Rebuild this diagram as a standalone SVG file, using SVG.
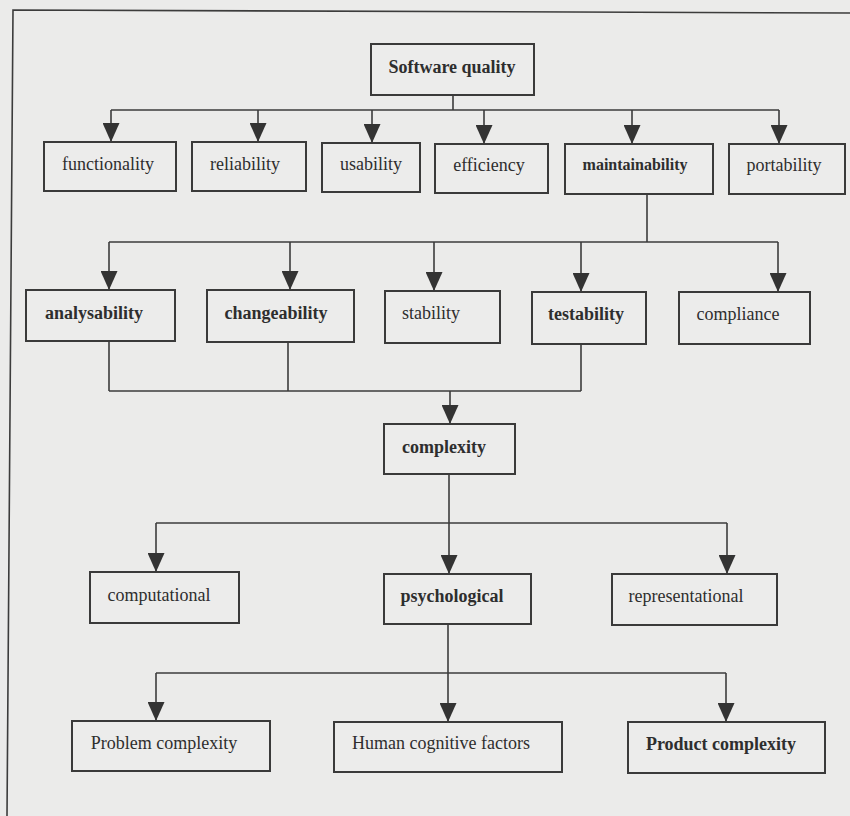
<svg xmlns="http://www.w3.org/2000/svg" width="850" height="816" viewBox="0 0 850 816">
<defs>
<style>
.bg{fill:#ebebea}
.box{fill:#ececeb;stroke:#3a3a3a;stroke-width:2}
.ln{fill:none;stroke:#3c3c3c;stroke-width:1.6}
.t{font-family:"Liberation Serif","Times New Roman",serif;font-size:18px;fill:#2e2e2e;text-anchor:middle}
.b{font-weight:bold}
</style>
<marker id="arr" markerUnits="userSpaceOnUse" markerWidth="19" markerHeight="17" viewBox="0 0 19 17" refX="19" refY="8.5" orient="auto">
<path d="M0,0 L19,8.5 L0,17 z" fill="#333"/>
</marker>
</defs>
<rect class="bg" x="0" y="0" width="850" height="816"/>
<path class="ln" d="M7,816 L13,10 L850,13" stroke-width="2"/>

<g id="connectors">
<path class="ln" d="M453,95 V110 M111,110 H779"/>
<path class="ln" marker-end="url(#arr)" d="M111,110 V142"/>
<path class="ln" marker-end="url(#arr)" d="M258,110 V142"/>
<path class="ln" marker-end="url(#arr)" d="M372,110 V143"/>
<path class="ln" marker-end="url(#arr)" d="M484,110 V144"/>
<path class="ln" marker-end="url(#arr)" d="M632,110 V144"/>
<path class="ln" marker-end="url(#arr)" d="M779,110 V144"/>

<path class="ln" d="M647,194 V242 M109,242 H778"/>
<path class="ln" marker-end="url(#arr)" d="M109,242 V290"/>
<path class="ln" marker-end="url(#arr)" d="M290,242 V290"/>
<path class="ln" marker-end="url(#arr)" d="M434,242 V291"/>
<path class="ln" marker-end="url(#arr)" d="M581,242 V292"/>
<path class="ln" marker-end="url(#arr)" d="M778,242 V292"/>

<path class="ln" d="M109,341 V391 M288,342 V391 M581,344 V391 M109,391 H581"/>
<path class="ln" marker-end="url(#arr)" d="M450,391 V424"/>

<path class="ln" d="M156,523 H727"/>
<path class="ln" marker-end="url(#arr)" d="M449,474 V574"/>
<path class="ln" marker-end="url(#arr)" d="M156,523 V572"/>
<path class="ln" marker-end="url(#arr)" d="M727,523 V574"/>

<path class="ln" d="M156,673 H726"/>
<path class="ln" marker-end="url(#arr)" d="M448,624 V722"/>
<path class="ln" marker-end="url(#arr)" d="M156,673 V721"/>
<path class="ln" marker-end="url(#arr)" d="M726,673 V722"/>
</g>

<g id="software-quality"><rect class="box" x="371" y="44" width="163" height="51"/><text class="t b" x="452" y="73">Software quality</text></g>

<g id="functionality"><rect class="box" x="44" y="142" width="132" height="49"/><text class="t" x="108" y="170">functionality</text></g>
<g id="reliability"><rect class="box" x="192" y="142" width="114" height="49"/><text class="t" x="245" y="170">reliability</text></g>
<g id="usability"><rect class="box" x="322" y="143" width="98" height="49"/><text class="t" x="371" y="170">usability</text></g>
<g id="efficiency"><rect class="box" x="435" y="144" width="113" height="49"/><text class="t" x="489" y="171">efficiency</text></g>
<g id="maintainability"><rect class="box" x="565" y="144" width="148" height="50"/><text class="t b" x="635" y="170" style="font-size:16px">maintainability</text></g>
<g id="portability"><rect class="box" x="729" y="144" width="116" height="50"/><text class="t" x="784" y="171">portability</text></g>

<g id="analysability"><rect class="box" x="26" y="290" width="149" height="51"/><text class="t b" x="94" y="319">analysability</text></g>
<g id="changeability"><rect class="box" x="207" y="290" width="147" height="52"/><text class="t b" x="276" y="319">changeability</text></g>
<g id="stability"><rect class="box" x="385" y="291" width="115" height="52"/><text class="t" x="431" y="319">stability</text></g>
<g id="testability"><rect class="box" x="532" y="292" width="114" height="52"/><text class="t b" x="586" y="320">testability</text></g>
<g id="compliance"><rect class="box" x="679" y="292" width="131" height="52"/><text class="t" x="738" y="320">compliance</text></g>

<g id="complexity"><rect class="box" x="384" y="424" width="131" height="50"/><text class="t b" x="444" y="453">complexity</text></g>

<g id="computational"><rect class="box" x="90" y="572" width="149" height="51"/><text class="t" x="159" y="601">computational</text></g>
<g id="psychological"><rect class="box" x="384" y="574" width="147" height="50"/><text class="t b" x="452" y="602">psychological</text></g>
<g id="representational"><rect class="box" x="612" y="574" width="165" height="51"/><text class="t" x="686" y="602">representational</text></g>

<g id="problem-complexity"><rect class="box" x="72" y="721" width="198" height="50"/><text class="t" x="164" y="749">Problem complexity</text></g>
<g id="human-cognitive-factors"><rect class="box" x="334" y="722" width="228" height="50"/><text class="t" x="441" y="749">Human cognitive factors</text></g>
<g id="product-complexity"><rect class="box" x="628" y="722" width="197" height="51"/><text class="t b" x="721" y="750">Product complexity</text></g>
</svg>
